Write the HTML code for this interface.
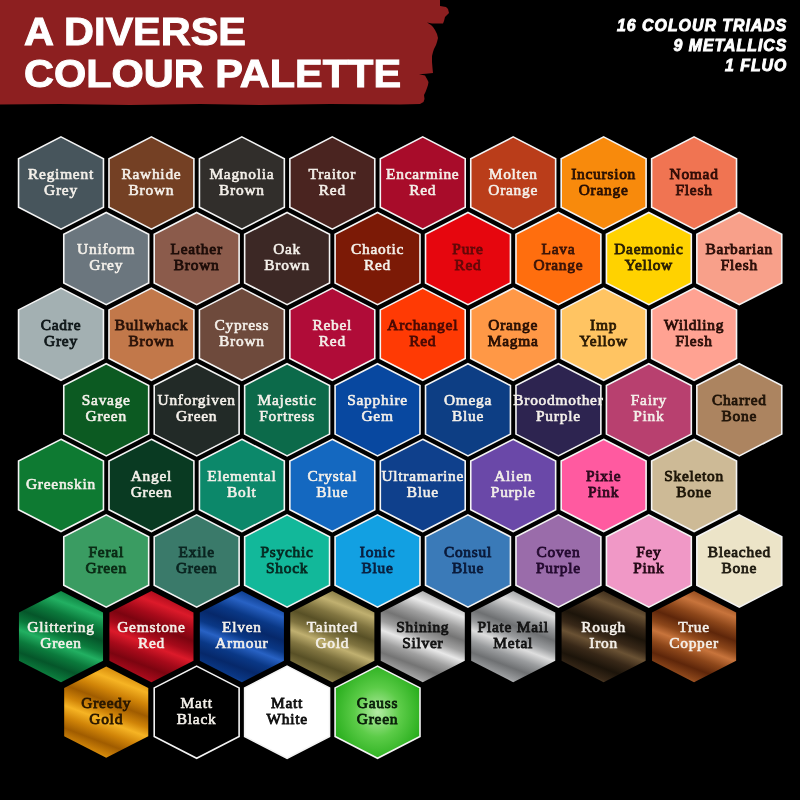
<!DOCTYPE html>
<html><head><meta charset="utf-8">
<style>
html,body{margin:0;padding:0;background:#000;width:800px;height:800px;overflow:hidden}
svg,.title,.stats{will-change:transform}
.wrap{position:relative;width:800px;height:800px;background:#000}
.title{position:absolute;left:24px;color:#fff;font-family:"Liberation Sans",sans-serif;font-weight:bold;font-size:39.5px;line-height:41.5px;white-space:nowrap;-webkit-text-stroke:1px #fff;transform-origin:0 0}
.stats{position:absolute;right:13px;top:15.5px;color:#fff;font-family:"Liberation Sans",sans-serif;font-weight:bold;font-style:italic;font-size:15.8px;line-height:20px;text-align:right;letter-spacing:1.05px;-webkit-text-stroke:0.9px #fff;white-space:nowrap}
</style></head><body><div class="wrap">
<svg width="460" height="112" viewBox="0 0 460 112" style="position:absolute;left:0;top:0">
<path d="M0,0 L440,0 L440,6 L446,7 L448,9 L449,13 L447,15 L445,17 L444,21 L443,23.5 L432,23.5 L427,22.5 L431,25 L433,27 L435,30 L437,34 L438,38 L437,42 L436,45 L434,49 L433,52 L432,56 L432,62 L432.5,68 L433,73 L426,73.8 L419,74.2 L425,75.5 L427,79 L428.5,82 L428,85 L427,88 L425.5,92 L424,95 L424.5,99 L423.5,102 L420,104 L400,104.5 L330,104 L260,105 L200,104 L130,105 L60,104 L0,104.5 Z" fill="#8d1f20"/>
</svg>
<div class="title" style="top:11px;transform:scaleX(1.05)">A DIVERSE<br>COLOUR PALETTE</div>
<div class="stats">16 COLOUR TRIADS<br>9 METALLICS<br>1 FLUO</div>
<svg width="800" height="800" viewBox="0 0 800 800" style="position:absolute;left:0;top:0">
<defs><radialGradient id="g_fluo" cx="0.5" cy="0.5" r="0.6"><stop offset="0" stop-color="#b4ecA4"/><stop offset="0.45" stop-color="#5ccc48"/><stop offset="1" stop-color="#1ea814"/></radialGradient>
<linearGradient id="g_6_0" gradientUnits="userSpaceOnUse" x1="79.8" y1="587.1" x2="42.2" y2="686.1"><stop offset="0.00" stop-color="#05562a"/><stop offset="0.08" stop-color="#0b7a3c"/><stop offset="0.19" stop-color="#22b062"/><stop offset="0.30" stop-color="#0b7a3c"/><stop offset="0.40" stop-color="#05562a"/><stop offset="0.50" stop-color="#0b7a3c"/><stop offset="0.58" stop-color="#22b062"/><stop offset="0.68" stop-color="#0b7a3c"/><stop offset="0.78" stop-color="#05562a"/><stop offset="0.88" stop-color="#0b7a3c"/><stop offset="0.95" stop-color="#22b062"/><stop offset="1.00" stop-color="#0b7a3c"/></linearGradient>
<linearGradient id="g_6_1" gradientUnits="userSpaceOnUse" x1="170.3" y1="587.1" x2="132.6" y2="686.1"><stop offset="0.00" stop-color="#7c0410"/><stop offset="0.08" stop-color="#a60a1a"/><stop offset="0.19" stop-color="#dc1a2a"/><stop offset="0.30" stop-color="#a60a1a"/><stop offset="0.40" stop-color="#7c0410"/><stop offset="0.50" stop-color="#a60a1a"/><stop offset="0.58" stop-color="#dc1a2a"/><stop offset="0.68" stop-color="#a60a1a"/><stop offset="0.78" stop-color="#7c0410"/><stop offset="0.88" stop-color="#a60a1a"/><stop offset="0.95" stop-color="#dc1a2a"/><stop offset="1.00" stop-color="#a60a1a"/></linearGradient>
<linearGradient id="g_6_2" gradientUnits="userSpaceOnUse" x1="260.7" y1="587.1" x2="223.1" y2="686.1"><stop offset="0.00" stop-color="#06286a"/><stop offset="0.08" stop-color="#0a3886"/><stop offset="0.19" stop-color="#2862c4"/><stop offset="0.30" stop-color="#0a3886"/><stop offset="0.40" stop-color="#06286a"/><stop offset="0.50" stop-color="#0a3886"/><stop offset="0.58" stop-color="#2862c4"/><stop offset="0.68" stop-color="#0a3886"/><stop offset="0.78" stop-color="#06286a"/><stop offset="0.88" stop-color="#0a3886"/><stop offset="0.95" stop-color="#2862c4"/><stop offset="1.00" stop-color="#0a3886"/></linearGradient>
<linearGradient id="g_6_3" gradientUnits="userSpaceOnUse" x1="351.1" y1="587.1" x2="313.5" y2="686.1"><stop offset="0.00" stop-color="#585026"/><stop offset="0.08" stop-color="#807440"/><stop offset="0.19" stop-color="#c0b070"/><stop offset="0.30" stop-color="#807440"/><stop offset="0.40" stop-color="#585026"/><stop offset="0.50" stop-color="#807440"/><stop offset="0.58" stop-color="#c0b070"/><stop offset="0.68" stop-color="#807440"/><stop offset="0.78" stop-color="#585026"/><stop offset="0.88" stop-color="#807440"/><stop offset="0.95" stop-color="#c0b070"/><stop offset="1.00" stop-color="#807440"/></linearGradient>
<linearGradient id="g_6_4" gradientUnits="userSpaceOnUse" x1="441.6" y1="587.1" x2="403.9" y2="686.1"><stop offset="0.00" stop-color="#747474"/><stop offset="0.08" stop-color="#a0a0a0"/><stop offset="0.19" stop-color="#e8e8e8"/><stop offset="0.30" stop-color="#a0a0a0"/><stop offset="0.40" stop-color="#747474"/><stop offset="0.50" stop-color="#a0a0a0"/><stop offset="0.58" stop-color="#e8e8e8"/><stop offset="0.68" stop-color="#a0a0a0"/><stop offset="0.78" stop-color="#747474"/><stop offset="0.88" stop-color="#a0a0a0"/><stop offset="0.95" stop-color="#e8e8e8"/><stop offset="1.00" stop-color="#a0a0a0"/></linearGradient>
<linearGradient id="g_6_5" gradientUnits="userSpaceOnUse" x1="532.0" y1="587.1" x2="494.4" y2="686.1"><stop offset="0.00" stop-color="#6e7072"/><stop offset="0.08" stop-color="#9a9c9e"/><stop offset="0.19" stop-color="#dedede"/><stop offset="0.30" stop-color="#9a9c9e"/><stop offset="0.40" stop-color="#6e7072"/><stop offset="0.50" stop-color="#9a9c9e"/><stop offset="0.58" stop-color="#dedede"/><stop offset="0.68" stop-color="#9a9c9e"/><stop offset="0.78" stop-color="#6e7072"/><stop offset="0.88" stop-color="#9a9c9e"/><stop offset="0.95" stop-color="#dedede"/><stop offset="1.00" stop-color="#9a9c9e"/></linearGradient>
<linearGradient id="g_6_6" gradientUnits="userSpaceOnUse" x1="622.5" y1="587.1" x2="584.8" y2="686.1"><stop offset="0.00" stop-color="#1c140a"/><stop offset="0.08" stop-color="#382818"/><stop offset="0.19" stop-color="#6a5234"/><stop offset="0.30" stop-color="#382818"/><stop offset="0.40" stop-color="#1c140a"/><stop offset="0.50" stop-color="#382818"/><stop offset="0.58" stop-color="#6a5234"/><stop offset="0.68" stop-color="#382818"/><stop offset="0.78" stop-color="#1c140a"/><stop offset="0.88" stop-color="#382818"/><stop offset="0.95" stop-color="#6a5234"/><stop offset="1.00" stop-color="#382818"/></linearGradient>
<linearGradient id="g_6_7" gradientUnits="userSpaceOnUse" x1="712.9" y1="587.1" x2="675.3" y2="686.1"><stop offset="0.00" stop-color="#5e260a"/><stop offset="0.08" stop-color="#8c461a"/><stop offset="0.19" stop-color="#c8743c"/><stop offset="0.30" stop-color="#8c461a"/><stop offset="0.40" stop-color="#5e260a"/><stop offset="0.50" stop-color="#8c461a"/><stop offset="0.58" stop-color="#c8743c"/><stop offset="0.68" stop-color="#8c461a"/><stop offset="0.78" stop-color="#5e260a"/><stop offset="0.88" stop-color="#8c461a"/><stop offset="0.95" stop-color="#c8743c"/><stop offset="1.00" stop-color="#8c461a"/></linearGradient>
<linearGradient id="g_7_0" gradientUnits="userSpaceOnUse" x1="125.0" y1="662.7" x2="87.4" y2="761.7"><stop offset="0.00" stop-color="#a05c00"/><stop offset="0.08" stop-color="#d08408"/><stop offset="0.19" stop-color="#f6b424"/><stop offset="0.30" stop-color="#d08408"/><stop offset="0.40" stop-color="#a05c00"/><stop offset="0.50" stop-color="#d08408"/><stop offset="0.58" stop-color="#f6b424"/><stop offset="0.68" stop-color="#d08408"/><stop offset="0.78" stop-color="#a05c00"/><stop offset="0.88" stop-color="#d08408"/><stop offset="0.95" stop-color="#f6b424"/><stop offset="1.00" stop-color="#d08408"/></linearGradient></defs>
<g font-family="Liberation Serif" font-weight="normal" font-size="15.4" text-anchor="middle" letter-spacing="0.75" stroke-width="0.7">
<polygon points="61.00,136.90 103.45,158.70 103.45,207.30 61.00,229.10 18.55,207.30 18.55,158.70" fill="#47555c" stroke="#f4f4f4" stroke-width="1.6"/>
<text x="61.00" y="178.50" fill="#f4f0ea" stroke="#f4f0ea" stroke-width="0.6">Regiment</text>
<text x="61.00" y="194.50" fill="#f4f0ea" stroke="#f4f0ea" stroke-width="0.6">Grey</text>
<polygon points="151.44,136.90 193.89,158.70 193.89,207.30 151.44,229.10 108.99,207.30 108.99,158.70" fill="#744024" stroke="#f4f4f4" stroke-width="1.6"/>
<text x="151.44" y="178.50" fill="#f4f0ea" stroke="#f4f0ea" stroke-width="0.6">Rawhide</text>
<text x="151.44" y="194.50" fill="#f4f0ea" stroke="#f4f0ea" stroke-width="0.6">Brown</text>
<polygon points="241.88,136.90 284.33,158.70 284.33,207.30 241.88,229.10 199.43,207.30 199.43,158.70" fill="#312e2b" stroke="#f4f4f4" stroke-width="1.6"/>
<text x="241.88" y="178.50" fill="#f4f0ea" stroke="#f4f0ea" stroke-width="0.6">Magnolia</text>
<text x="241.88" y="194.50" fill="#f4f0ea" stroke="#f4f0ea" stroke-width="0.6">Brown</text>
<polygon points="332.32,136.90 374.77,158.70 374.77,207.30 332.32,229.10 289.87,207.30 289.87,158.70" fill="#4a2420" stroke="#f4f4f4" stroke-width="1.6"/>
<text x="332.32" y="178.50" fill="#f4f0ea" stroke="#f4f0ea" stroke-width="0.6">Traitor</text>
<text x="332.32" y="194.50" fill="#f4f0ea" stroke="#f4f0ea" stroke-width="0.6">Red</text>
<polygon points="422.76,136.90 465.21,158.70 465.21,207.30 422.76,229.10 380.31,207.30 380.31,158.70" fill="#a80c2a" stroke="#f4f4f4" stroke-width="1.6"/>
<text x="422.76" y="178.50" fill="#f4f0ea" stroke="#f4f0ea" stroke-width="0.6">Encarmine</text>
<text x="422.76" y="194.50" fill="#f4f0ea" stroke="#f4f0ea" stroke-width="0.6">Red</text>
<polygon points="513.20,136.90 555.65,158.70 555.65,207.30 513.20,229.10 470.75,207.30 470.75,158.70" fill="#ba3d1a" stroke="#f4f4f4" stroke-width="1.6"/>
<text x="513.20" y="178.50" fill="#f4f0ea" stroke="#f4f0ea" stroke-width="0.6">Molten</text>
<text x="513.20" y="194.50" fill="#f4f0ea" stroke="#f4f0ea" stroke-width="0.6">Orange</text>
<polygon points="603.64,136.90 646.09,158.70 646.09,207.30 603.64,229.10 561.19,207.30 561.19,158.70" fill="#f88a0c" stroke="#f4f4f4" stroke-width="1.6"/>
<text x="603.64" y="178.50" fill="#2a1004" stroke="#2a1004" stroke-width="0.85">Incursion</text>
<text x="603.64" y="194.50" fill="#2a1004" stroke="#2a1004" stroke-width="0.85">Orange</text>
<polygon points="694.08,136.90 736.53,158.70 736.53,207.30 694.08,229.10 651.63,207.30 651.63,158.70" fill="#f07452" stroke="#f4f4f4" stroke-width="1.6"/>
<text x="694.08" y="178.50" fill="#300c06" stroke="#300c06" stroke-width="0.85">Nomad</text>
<text x="694.08" y="194.50" fill="#300c06" stroke="#300c06" stroke-width="0.85">Flesh</text>
<polygon points="106.22,212.50 148.67,234.30 148.67,282.90 106.22,304.70 63.77,282.90 63.77,234.30" fill="#6b767e" stroke="#f4f4f4" stroke-width="1.6"/>
<text x="106.22" y="254.10" fill="#f4f0ea" stroke="#f4f0ea" stroke-width="0.6">Uniform</text>
<text x="106.22" y="270.10" fill="#f4f0ea" stroke="#f4f0ea" stroke-width="0.6">Grey</text>
<polygon points="196.66,212.50 239.11,234.30 239.11,282.90 196.66,304.70 154.21,282.90 154.21,234.30" fill="#8b5b4b" stroke="#f4f4f4" stroke-width="1.6"/>
<text x="196.66" y="254.10" fill="#1c0c08" stroke="#1c0c08" stroke-width="0.85">Leather</text>
<text x="196.66" y="270.10" fill="#1c0c08" stroke="#1c0c08" stroke-width="0.85">Brown</text>
<polygon points="287.10,212.50 329.55,234.30 329.55,282.90 287.10,304.70 244.65,282.90 244.65,234.30" fill="#3c2825" stroke="#f4f4f4" stroke-width="1.6"/>
<text x="287.10" y="254.10" fill="#f4f0ea" stroke="#f4f0ea" stroke-width="0.6">Oak</text>
<text x="287.10" y="270.10" fill="#f4f0ea" stroke="#f4f0ea" stroke-width="0.6">Brown</text>
<polygon points="377.54,212.50 419.99,234.30 419.99,282.90 377.54,304.70 335.09,282.90 335.09,234.30" fill="#7c1a06" stroke="#f4f4f4" stroke-width="1.6"/>
<text x="377.54" y="254.10" fill="#f4f0ea" stroke="#f4f0ea" stroke-width="0.6">Chaotic</text>
<text x="377.54" y="270.10" fill="#f4f0ea" stroke="#f4f0ea" stroke-width="0.6">Red</text>
<polygon points="467.98,212.50 510.43,234.30 510.43,282.90 467.98,304.70 425.53,282.90 425.53,234.30" fill="#e6060e" stroke="#f4f4f4" stroke-width="1.6"/>
<text x="467.98" y="254.10" fill="#640808" stroke="#640808" stroke-width="0.85">Pure</text>
<text x="467.98" y="270.10" fill="#640808" stroke="#640808" stroke-width="0.85">Red</text>
<polygon points="558.42,212.50 600.87,234.30 600.87,282.90 558.42,304.70 515.97,282.90 515.97,234.30" fill="#ff6e0e" stroke="#f4f4f4" stroke-width="1.6"/>
<text x="558.42" y="254.10" fill="#3a1408" stroke="#3a1408" stroke-width="0.85">Lava</text>
<text x="558.42" y="270.10" fill="#3a1408" stroke="#3a1408" stroke-width="0.85">Orange</text>
<polygon points="648.86,212.50 691.31,234.30 691.31,282.90 648.86,304.70 606.41,282.90 606.41,234.30" fill="#ffd200" stroke="#f4f4f4" stroke-width="1.6"/>
<text x="648.86" y="254.10" fill="#2a2004" stroke="#2a2004" stroke-width="0.85">Daemonic</text>
<text x="648.86" y="270.10" fill="#2a2004" stroke="#2a2004" stroke-width="0.85">Yellow</text>
<polygon points="739.30,212.50 781.75,234.30 781.75,282.90 739.30,304.70 696.85,282.90 696.85,234.30" fill="#f8a08a" stroke="#f4f4f4" stroke-width="1.6"/>
<text x="739.30" y="254.10" fill="#2c0e08" stroke="#2c0e08" stroke-width="0.85">Barbarian</text>
<text x="739.30" y="270.10" fill="#2c0e08" stroke="#2c0e08" stroke-width="0.85">Flesh</text>
<polygon points="61.00,288.10 103.45,309.90 103.45,358.50 61.00,380.30 18.55,358.50 18.55,309.90" fill="#a3b0b2" stroke="#f4f4f4" stroke-width="1.6"/>
<text x="61.00" y="329.70" fill="#10181a" stroke="#10181a" stroke-width="0.85">Cadre</text>
<text x="61.00" y="345.70" fill="#10181a" stroke="#10181a" stroke-width="0.85">Grey</text>
<polygon points="151.44,288.10 193.89,309.90 193.89,358.50 151.44,380.30 108.99,358.50 108.99,309.90" fill="#c2784a" stroke="#f4f4f4" stroke-width="1.6"/>
<text x="151.44" y="329.70" fill="#2a1208" stroke="#2a1208" stroke-width="0.85">Bullwhack</text>
<text x="151.44" y="345.70" fill="#2a1208" stroke="#2a1208" stroke-width="0.85">Brown</text>
<polygon points="241.88,288.10 284.33,309.90 284.33,358.50 241.88,380.30 199.43,358.50 199.43,309.90" fill="#6e4a3c" stroke="#f4f4f4" stroke-width="1.6"/>
<text x="241.88" y="329.70" fill="#f4f0ea" stroke="#f4f0ea" stroke-width="0.6">Cypress</text>
<text x="241.88" y="345.70" fill="#f4f0ea" stroke="#f4f0ea" stroke-width="0.6">Brown</text>
<polygon points="332.32,288.10 374.77,309.90 374.77,358.50 332.32,380.30 289.87,358.50 289.87,309.90" fill="#b00c38" stroke="#f4f4f4" stroke-width="1.6"/>
<text x="332.32" y="329.70" fill="#f4f0ea" stroke="#f4f0ea" stroke-width="0.6">Rebel</text>
<text x="332.32" y="345.70" fill="#f4f0ea" stroke="#f4f0ea" stroke-width="0.6">Red</text>
<polygon points="422.76,288.10 465.21,309.90 465.21,358.50 422.76,380.30 380.31,358.50 380.31,309.90" fill="#ff3a04" stroke="#f4f4f4" stroke-width="1.6"/>
<text x="422.76" y="329.70" fill="#4a0a04" stroke="#4a0a04" stroke-width="0.85">Archangel</text>
<text x="422.76" y="345.70" fill="#4a0a04" stroke="#4a0a04" stroke-width="0.85">Red</text>
<polygon points="513.20,288.10 555.65,309.90 555.65,358.50 513.20,380.30 470.75,358.50 470.75,309.90" fill="#ff9846" stroke="#f4f4f4" stroke-width="1.6"/>
<text x="513.20" y="329.70" fill="#2a1004" stroke="#2a1004" stroke-width="0.85">Orange</text>
<text x="513.20" y="345.70" fill="#2a1004" stroke="#2a1004" stroke-width="0.85">Magma</text>
<polygon points="603.64,288.10 646.09,309.90 646.09,358.50 603.64,380.30 561.19,358.50 561.19,309.90" fill="#ffc462" stroke="#f4f4f4" stroke-width="1.6"/>
<text x="603.64" y="329.70" fill="#2a1a04" stroke="#2a1a04" stroke-width="0.85">Imp</text>
<text x="603.64" y="345.70" fill="#2a1a04" stroke="#2a1a04" stroke-width="0.85">Yellow</text>
<polygon points="694.08,288.10 736.53,309.90 736.53,358.50 694.08,380.30 651.63,358.50 651.63,309.90" fill="#ffa292" stroke="#f4f4f4" stroke-width="1.6"/>
<text x="694.08" y="329.70" fill="#2a0e08" stroke="#2a0e08" stroke-width="0.85">Wildling</text>
<text x="694.08" y="345.70" fill="#2a0e08" stroke="#2a0e08" stroke-width="0.85">Flesh</text>
<polygon points="106.22,363.70 148.67,385.50 148.67,434.10 106.22,455.90 63.77,434.10 63.77,385.50" fill="#0c5a22" stroke="#f4f4f4" stroke-width="1.6"/>
<text x="106.22" y="405.30" fill="#f4f0ea" stroke="#f4f0ea" stroke-width="0.6">Savage</text>
<text x="106.22" y="421.30" fill="#f4f0ea" stroke="#f4f0ea" stroke-width="0.6">Green</text>
<polygon points="196.66,363.70 239.11,385.50 239.11,434.10 196.66,455.90 154.21,434.10 154.21,385.50" fill="#222a27" stroke="#f4f4f4" stroke-width="1.6"/>
<text x="196.66" y="405.30" fill="#f4f0ea" stroke="#f4f0ea" stroke-width="0.6">Unforgiven</text>
<text x="196.66" y="421.30" fill="#f4f0ea" stroke="#f4f0ea" stroke-width="0.6">Green</text>
<polygon points="287.10,363.70 329.55,385.50 329.55,434.10 287.10,455.90 244.65,434.10 244.65,385.50" fill="#0c6a4a" stroke="#f4f4f4" stroke-width="1.6"/>
<text x="287.10" y="405.30" fill="#f4f0ea" stroke="#f4f0ea" stroke-width="0.6">Majestic</text>
<text x="287.10" y="421.30" fill="#f4f0ea" stroke="#f4f0ea" stroke-width="0.6">Fortress</text>
<polygon points="377.54,363.70 419.99,385.50 419.99,434.10 377.54,455.90 335.09,434.10 335.09,385.50" fill="#0848a0" stroke="#f4f4f4" stroke-width="1.6"/>
<text x="377.54" y="405.30" fill="#f4f0ea" stroke="#f4f0ea" stroke-width="0.6">Sapphire</text>
<text x="377.54" y="421.30" fill="#f4f0ea" stroke="#f4f0ea" stroke-width="0.6">Gem</text>
<polygon points="467.98,363.70 510.43,385.50 510.43,434.10 467.98,455.90 425.53,434.10 425.53,385.50" fill="#0d3e84" stroke="#f4f4f4" stroke-width="1.6"/>
<text x="467.98" y="405.30" fill="#f4f0ea" stroke="#f4f0ea" stroke-width="0.6">Omega</text>
<text x="467.98" y="421.30" fill="#f4f0ea" stroke="#f4f0ea" stroke-width="0.6">Blue</text>
<polygon points="558.42,363.70 600.87,385.50 600.87,434.10 558.42,455.90 515.97,434.10 515.97,385.50" fill="#2d2450" stroke="#f4f4f4" stroke-width="1.6"/>
<text x="558.42" y="405.30" fill="#f4f0ea" stroke="#f4f0ea" stroke-width="0.6">Broodmother</text>
<text x="558.42" y="421.30" fill="#f4f0ea" stroke="#f4f0ea" stroke-width="0.6">Purple</text>
<polygon points="648.86,363.70 691.31,385.50 691.31,434.10 648.86,455.90 606.41,434.10 606.41,385.50" fill="#b8406f" stroke="#f4f4f4" stroke-width="1.6"/>
<text x="648.86" y="405.30" fill="#f4f0ea" stroke="#f4f0ea" stroke-width="0.6">Fairy</text>
<text x="648.86" y="421.30" fill="#f4f0ea" stroke="#f4f0ea" stroke-width="0.6">Pink</text>
<polygon points="739.30,363.70 781.75,385.50 781.75,434.10 739.30,455.90 696.85,434.10 696.85,385.50" fill="#ac8460" stroke="#f4f4f4" stroke-width="1.6"/>
<text x="739.30" y="405.30" fill="#201408" stroke="#201408" stroke-width="0.85">Charred</text>
<text x="739.30" y="421.30" fill="#201408" stroke="#201408" stroke-width="0.85">Bone</text>
<polygon points="61.00,439.30 103.45,461.10 103.45,509.70 61.00,531.50 18.55,509.70 18.55,461.10" fill="#0e7a32" stroke="#f4f4f4" stroke-width="1.6"/>
<text x="61.00" y="488.90" fill="#f4f0ea" stroke="#f4f0ea" stroke-width="0.6">Greenskin</text>
<polygon points="151.44,439.30 193.89,461.10 193.89,509.70 151.44,531.50 108.99,509.70 108.99,461.10" fill="#093a22" stroke="#f4f4f4" stroke-width="1.6"/>
<text x="151.44" y="480.90" fill="#f4f0ea" stroke="#f4f0ea" stroke-width="0.6">Angel</text>
<text x="151.44" y="496.90" fill="#f4f0ea" stroke="#f4f0ea" stroke-width="0.6">Green</text>
<polygon points="241.88,439.30 284.33,461.10 284.33,509.70 241.88,531.50 199.43,509.70 199.43,461.10" fill="#0c886a" stroke="#f4f4f4" stroke-width="1.6"/>
<text x="241.88" y="480.90" fill="#f4f0ea" stroke="#f4f0ea" stroke-width="0.6">Elemental</text>
<text x="241.88" y="496.90" fill="#f4f0ea" stroke="#f4f0ea" stroke-width="0.6">Bolt</text>
<polygon points="332.32,439.30 374.77,461.10 374.77,509.70 332.32,531.50 289.87,509.70 289.87,461.10" fill="#1468c0" stroke="#f4f4f4" stroke-width="1.6"/>
<text x="332.32" y="480.90" fill="#f4f0ea" stroke="#f4f0ea" stroke-width="0.6">Crystal</text>
<text x="332.32" y="496.90" fill="#f4f0ea" stroke="#f4f0ea" stroke-width="0.6">Blue</text>
<polygon points="422.76,439.30 465.21,461.10 465.21,509.70 422.76,531.50 380.31,509.70 380.31,461.10" fill="#0f408c" stroke="#f4f4f4" stroke-width="1.6"/>
<text x="422.76" y="480.90" fill="#f4f0ea" stroke="#f4f0ea" stroke-width="0.6">Ultramarine</text>
<text x="422.76" y="496.90" fill="#f4f0ea" stroke="#f4f0ea" stroke-width="0.6">Blue</text>
<polygon points="513.20,439.30 555.65,461.10 555.65,509.70 513.20,531.50 470.75,509.70 470.75,461.10" fill="#6a48a8" stroke="#f4f4f4" stroke-width="1.6"/>
<text x="513.20" y="480.90" fill="#f4f0ea" stroke="#f4f0ea" stroke-width="0.6">Alien</text>
<text x="513.20" y="496.90" fill="#f4f0ea" stroke="#f4f0ea" stroke-width="0.6">Purple</text>
<polygon points="603.64,439.30 646.09,461.10 646.09,509.70 603.64,531.50 561.19,509.70 561.19,461.10" fill="#ff5aa0" stroke="#f4f4f4" stroke-width="1.6"/>
<text x="603.64" y="480.90" fill="#2e0a1e" stroke="#2e0a1e" stroke-width="0.85">Pixie</text>
<text x="603.64" y="496.90" fill="#2e0a1e" stroke="#2e0a1e" stroke-width="0.85">Pink</text>
<polygon points="694.08,439.30 736.53,461.10 736.53,509.70 694.08,531.50 651.63,509.70 651.63,461.10" fill="#cdba96" stroke="#f4f4f4" stroke-width="1.6"/>
<text x="694.08" y="480.90" fill="#1e1608" stroke="#1e1608" stroke-width="0.85">Skeleton</text>
<text x="694.08" y="496.90" fill="#1e1608" stroke="#1e1608" stroke-width="0.85">Bone</text>
<polygon points="106.22,514.90 148.67,536.70 148.67,585.30 106.22,607.10 63.77,585.30 63.77,536.70" fill="#3a9c62" stroke="#f4f4f4" stroke-width="1.6"/>
<text x="106.22" y="556.50" fill="#0a2a14" stroke="#0a2a14" stroke-width="0.85">Feral</text>
<text x="106.22" y="572.50" fill="#0a2a14" stroke="#0a2a14" stroke-width="0.85">Green</text>
<polygon points="196.66,514.90 239.11,536.70 239.11,585.30 196.66,607.10 154.21,585.30 154.21,536.70" fill="#3a7a6a" stroke="#f4f4f4" stroke-width="1.6"/>
<text x="196.66" y="556.50" fill="#0a2420" stroke="#0a2420" stroke-width="0.85">Exile</text>
<text x="196.66" y="572.50" fill="#0a2420" stroke="#0a2420" stroke-width="0.85">Green</text>
<polygon points="287.10,514.90 329.55,536.70 329.55,585.30 287.10,607.10 244.65,585.30 244.65,536.70" fill="#12b89a" stroke="#f4f4f4" stroke-width="1.6"/>
<text x="287.10" y="556.50" fill="#062a22" stroke="#062a22" stroke-width="0.85">Psychic</text>
<text x="287.10" y="572.50" fill="#062a22" stroke="#062a22" stroke-width="0.85">Shock</text>
<polygon points="377.54,514.90 419.99,536.70 419.99,585.30 377.54,607.10 335.09,585.30 335.09,536.70" fill="#12a0e2" stroke="#f4f4f4" stroke-width="1.6"/>
<text x="377.54" y="556.50" fill="#0a2040" stroke="#0a2040" stroke-width="0.85">Ionic</text>
<text x="377.54" y="572.50" fill="#0a2040" stroke="#0a2040" stroke-width="0.85">Blue</text>
<polygon points="467.98,514.90 510.43,536.70 510.43,585.30 467.98,607.10 425.53,585.30 425.53,536.70" fill="#3a7ab8" stroke="#f4f4f4" stroke-width="1.6"/>
<text x="467.98" y="556.50" fill="#0a1a3a" stroke="#0a1a3a" stroke-width="0.85">Consul</text>
<text x="467.98" y="572.50" fill="#0a1a3a" stroke="#0a1a3a" stroke-width="0.85">Blue</text>
<polygon points="558.42,514.90 600.87,536.70 600.87,585.30 558.42,607.10 515.97,585.30 515.97,536.70" fill="#9a6caa" stroke="#f4f4f4" stroke-width="1.6"/>
<text x="558.42" y="556.50" fill="#240a30" stroke="#240a30" stroke-width="0.85">Coven</text>
<text x="558.42" y="572.50" fill="#240a30" stroke="#240a30" stroke-width="0.85">Purple</text>
<polygon points="648.86,514.90 691.31,536.70 691.31,585.30 648.86,607.10 606.41,585.30 606.41,536.70" fill="#f098c6" stroke="#f4f4f4" stroke-width="1.6"/>
<text x="648.86" y="556.50" fill="#260a18" stroke="#260a18" stroke-width="0.85">Fey</text>
<text x="648.86" y="572.50" fill="#260a18" stroke="#260a18" stroke-width="0.85">Pink</text>
<polygon points="739.30,514.90 781.75,536.70 781.75,585.30 739.30,607.10 696.85,585.30 696.85,536.70" fill="#ece4c8" stroke="#f4f4f4" stroke-width="1.6"/>
<text x="739.30" y="556.50" fill="#1e1a10" stroke="#1e1a10" stroke-width="0.85">Bleached</text>
<text x="739.30" y="572.50" fill="#1e1a10" stroke="#1e1a10" stroke-width="0.85">Bone</text>
<polygon points="61.00,591.00 103.05,612.50 103.05,660.70 61.00,682.20 18.95,660.70 18.95,612.50" fill="url(#g_6_0)"/>
<text x="61.00" y="632.10" fill="#f4f0ea" stroke="#f4f0ea" stroke-width="0.6">Glittering</text>
<text x="61.00" y="648.10" fill="#f4f0ea" stroke="#f4f0ea" stroke-width="0.6">Green</text>
<polygon points="151.44,591.00 193.49,612.50 193.49,660.70 151.44,682.20 109.39,660.70 109.39,612.50" fill="url(#g_6_1)"/>
<text x="151.44" y="632.10" fill="#f4f0ea" stroke="#f4f0ea" stroke-width="0.6">Gemstone</text>
<text x="151.44" y="648.10" fill="#f4f0ea" stroke="#f4f0ea" stroke-width="0.6">Red</text>
<polygon points="241.88,591.00 283.93,612.50 283.93,660.70 241.88,682.20 199.83,660.70 199.83,612.50" fill="url(#g_6_2)"/>
<text x="241.88" y="632.10" fill="#f4f0ea" stroke="#f4f0ea" stroke-width="0.6">Elven</text>
<text x="241.88" y="648.10" fill="#f4f0ea" stroke="#f4f0ea" stroke-width="0.6">Armour</text>
<polygon points="332.32,591.00 374.37,612.50 374.37,660.70 332.32,682.20 290.27,660.70 290.27,612.50" fill="url(#g_6_3)"/>
<text x="332.32" y="632.10" fill="#f4f0ea" stroke="#f4f0ea" stroke-width="0.6">Tainted</text>
<text x="332.32" y="648.10" fill="#f4f0ea" stroke="#f4f0ea" stroke-width="0.6">Gold</text>
<polygon points="422.76,591.00 464.81,612.50 464.81,660.70 422.76,682.20 380.71,660.70 380.71,612.50" fill="url(#g_6_4)"/>
<text x="422.76" y="632.10" fill="#141414" stroke="#141414" stroke-width="0.85">Shining</text>
<text x="422.76" y="648.10" fill="#141414" stroke="#141414" stroke-width="0.85">Silver</text>
<polygon points="513.20,591.00 555.25,612.50 555.25,660.70 513.20,682.20 471.15,660.70 471.15,612.50" fill="url(#g_6_5)"/>
<text x="513.20" y="632.10" fill="#141414" stroke="#141414" stroke-width="0.85">Plate Mail</text>
<text x="513.20" y="648.10" fill="#141414" stroke="#141414" stroke-width="0.85">Metal</text>
<polygon points="603.64,591.00 645.69,612.50 645.69,660.70 603.64,682.20 561.59,660.70 561.59,612.50" fill="url(#g_6_6)"/>
<text x="603.64" y="632.10" fill="#f4f0ea" stroke="#f4f0ea" stroke-width="0.6">Rough</text>
<text x="603.64" y="648.10" fill="#f4f0ea" stroke="#f4f0ea" stroke-width="0.6">Iron</text>
<polygon points="694.08,591.00 736.13,612.50 736.13,660.70 694.08,682.20 652.03,660.70 652.03,612.50" fill="url(#g_6_7)"/>
<text x="694.08" y="632.10" fill="#f4f0ea" stroke="#f4f0ea" stroke-width="0.6">True</text>
<text x="694.08" y="648.10" fill="#f4f0ea" stroke="#f4f0ea" stroke-width="0.6">Copper</text>
<polygon points="106.22,666.60 148.27,688.10 148.27,736.30 106.22,757.80 64.17,736.30 64.17,688.10" fill="url(#g_7_0)"/>
<text x="106.22" y="707.70" fill="#2a1800" stroke="#2a1800" stroke-width="0.85">Greedy</text>
<text x="106.22" y="723.70" fill="#2a1800" stroke="#2a1800" stroke-width="0.85">Gold</text>
<polygon points="196.66,666.10 239.11,687.90 239.11,736.50 196.66,758.30 154.21,736.50 154.21,687.90" fill="#000000" stroke="#f4f4f4" stroke-width="1.6"/>
<text x="196.66" y="707.70" fill="#f4f0ea" stroke="#f4f0ea" stroke-width="0.6">Matt</text>
<text x="196.66" y="723.70" fill="#f4f0ea" stroke="#f4f0ea" stroke-width="0.6">Black</text>
<polygon points="287.10,666.10 329.55,687.90 329.55,736.50 287.10,758.30 244.65,736.50 244.65,687.90" fill="#ffffff" stroke="#f4f4f4" stroke-width="1.6"/>
<text x="287.10" y="707.70" fill="#111111" stroke="#111111" stroke-width="0.85">Matt</text>
<text x="287.10" y="723.70" fill="#111111" stroke="#111111" stroke-width="0.85">White</text>
<polygon points="377.54,666.10 419.99,687.90 419.99,736.50 377.54,758.30 335.09,736.50 335.09,687.90" fill="url(#g_fluo)" stroke="#f4f4f4" stroke-width="1.6"/>
<text x="377.54" y="707.70" fill="#0a200a" stroke="#0a200a" stroke-width="0.85">Gauss</text>
<text x="377.54" y="723.70" fill="#0a200a" stroke="#0a200a" stroke-width="0.85">Green</text>
</g>
</svg>
</div></body></html>
